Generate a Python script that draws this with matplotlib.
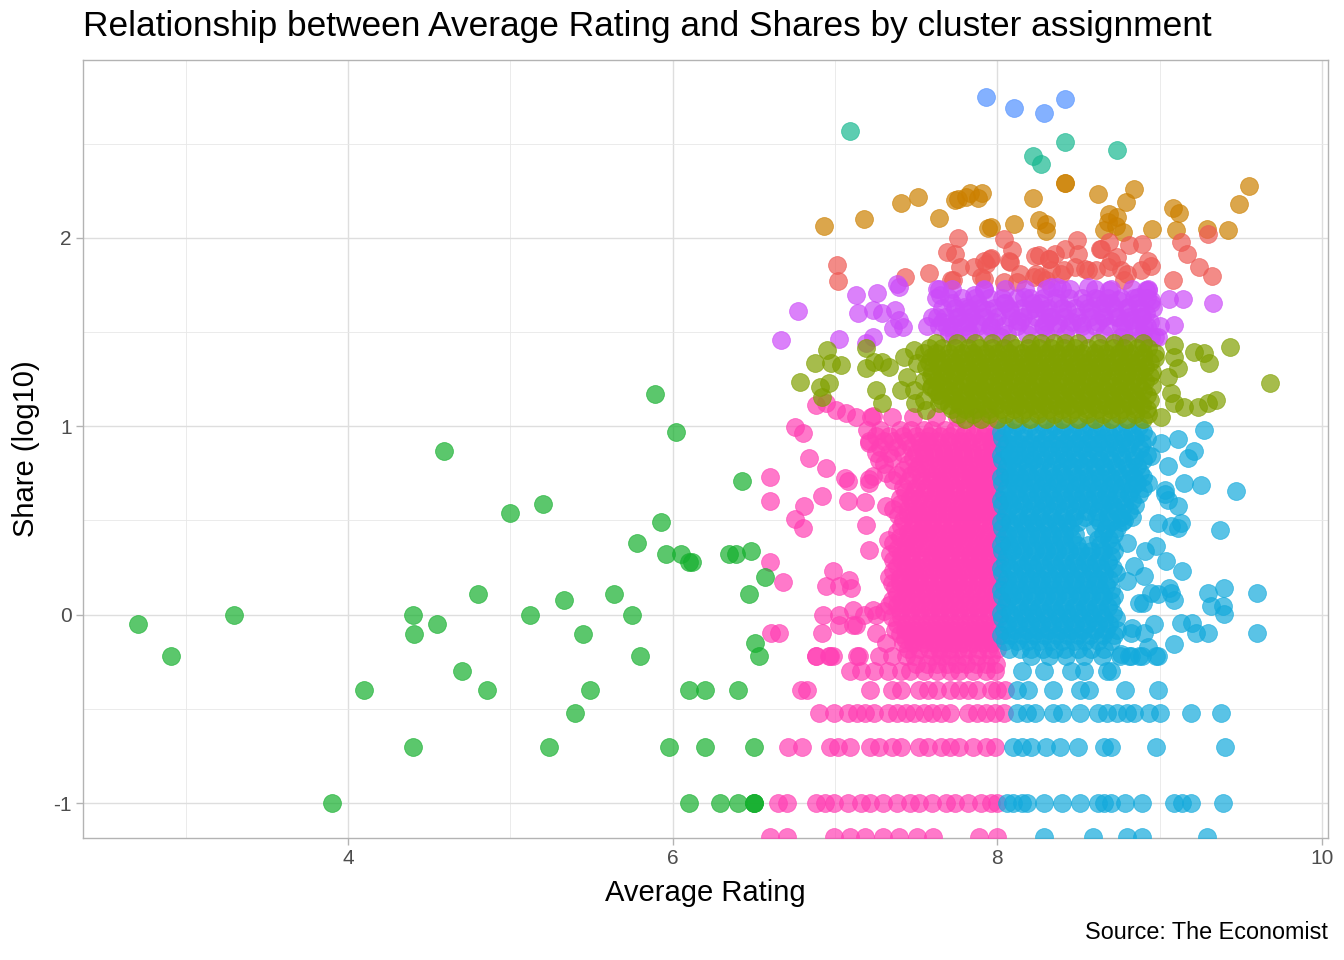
"""
Scatter of average rating vs log10 shares, coloured by cluster assignment.
Points are hand-read off the reference; dense blobs are written as rows of
ratings at a given share level (plus in-between fill rows for the solid cores).
"""

import matplotlib

matplotlib.use("Agg")
import matplotlib.pyplot as plt
from matplotlib.ticker import FixedLocator

plt.rcParams["font.family"] = ["Liberation Sans", "DejaVu Sans"]
plt.rcParams["axes.unicode_minus"] = False

# ---------------------------------------------------------------- data
# sparse clusters: (rating, log10 share)
green_x = [2.71, 2.91, 3.3, 3.9, 4.1, 4.4, 4.41, 4.4, 4.55, 4.59, 4.7, 4.8, 4.86, 5.0,
           5.12, 5.2, 5.24, 5.33, 5.4, 5.45, 5.49, 5.64, 5.75, 5.78, 5.8, 5.89, 5.93,
           5.96, 5.98, 6.02, 6.05, 6.1, 6.12, 6.1, 6.1, 6.2, 6.2, 6.29, 6.35, 6.39, 6.4,
           6.4, 6.43, 6.47, 6.48, 6.5, 6.5, 6.5, 6.5, 6.51, 6.53, 6.57]
green_y = [-0.05, -0.22, 0.0, -1.0, -0.4, 0.0, -0.1, -0.7, -0.05, 0.87, -0.3, 0.11, -0.4,
           0.54, 0.0, 0.59, -0.7, 0.08, -0.52, -0.1, -0.4, 0.11, 0.0, 0.38, -0.22, 1.17,
           0.49, 0.32, -0.7, 0.97, 0.32, 0.28, 0.28, -0.4, -1.0, -0.4, -0.7, -1.0, 0.32,
           0.32, -0.4, -1.0, 0.71, 0.11, 0.34, -0.7, -1.0, -1.0, -1.0, -0.15, -0.22, 0.2]

teal_x = [7.09, 8.22, 8.27, 8.42, 8.74]
teal_y = [2.57, 2.435, 2.39, 2.51, 2.465]

lightblue_x = [7.93, 8.1, 8.29, 8.415]
lightblue_y = [2.747, 2.69, 2.664, 2.74]

orange_x = [6.93, 7.18, 7.41, 7.51, 7.64, 7.74, 7.76, 7.81, 7.83, 7.88, 7.905, 7.94, 7.96,
            8.1, 8.22, 8.26, 8.3, 8.3, 8.42, 8.42, 8.62, 8.66, 8.68, 8.69, 8.73, 8.74,
            8.775, 8.79, 8.84, 8.95, 9.08, 9.12, 9.1, 9.29, 9.42, 9.49, 9.55]
orange_y = [2.065, 2.1, 2.185, 2.217, 2.106, 2.2, 2.208, 2.217, 2.24, 2.214, 2.24, 2.051,
            2.058, 2.072, 2.21, 2.094, 2.076, 2.037, 2.29, 2.29, 2.235, 2.04, 2.085,
            2.129, 2.062, 2.111, 2.03, 2.19, 2.258, 2.05, 2.159, 2.13, 2.044, 2.05,
            2.044, 2.18, 2.277]

red_x = [7.015, 7.02, 7.43, 7.58, 7.76, 7.74, 7.77, 7.715, 7.69, 7.9, 7.93, 7.96, 8.04,
         8.09, 8.08, 8.14, 8.12, 8.23, 8.32, 8.24, 8.3, 8.42, 8.49, 8.5, 8.48, 8.54, 8.41,
         8.64, 8.7, 8.76, 8.81, 8.89, 8.93, 8.78, 8.68, 8.61, 9.08, 9.24, 9.32, 9.13, 9.17,
         9.3, 8.69, 8.885, 8.8, 8.947, 8.557, 8.393, 8.33, 8.27, 8.63, 8.74, 8.32, 8.26,
         7.855, 7.917, 7.958, 7.73, 8.04, 7.917, 8.225, 8.358, 8.07]
red_y = [1.855, 1.77, 1.793, 1.816, 2.0, 1.913, 1.846, 1.775, 1.926, 1.793, 1.859, 1.896,
         1.996, 1.935, 1.873, 1.811, 1.767, 1.903, 1.887, 1.811, 1.776, 1.943, 1.988,
         1.917, 1.846, 1.837, 1.829, 1.943, 1.88, 1.829, 1.96, 1.97, 1.88, 1.775, 1.846,
         1.829, 1.775, 1.846, 1.8, 1.979, 1.917, 2.023, 1.979, 1.83, 1.81, 1.85, 1.83,
         1.81, 1.83, 1.79, 1.943, 1.9, 1.89, 1.908, 1.846, 1.88, 1.89, 1.776, 1.767,
         1.784, 1.793, 1.917, 1.88]

purple_x = [6.67, 6.77, 7.026, 7.127, 7.26, 7.14, 7.234, 7.288, 7.368, 7.395, 7.42, 7.355,
            7.234, 7.194, 7.38, 7.395, 7.64, 7.65, 7.63, 7.568, 7.69, 7.753, 7.794, 7.855,
            7.917, 7.835, 7.938, 7.958, 7.835, 7.732, 7.773, 7.876, 8.02, 8.08, 8.163,
            8.12, 8.2, 8.265, 8.327, 8.286, 8.368, 8.04, 8.331, 8.4, 8.29, 8.43, 8.557,
            8.62, 8.69, 8.66, 8.58, 8.742, 8.803, 8.865, 8.926, 8.947, 8.885, 8.823,
            8.742, 8.66, 8.516, 8.372, 8.762, 8.865, 8.947, 8.988, 9.06, 9.146, 9.33,
            9.086, 8.917, 8.944, 8.917, 8.904, 8.971]
purple_y = [1.458, 1.612, 1.466, 1.696, 1.705, 1.6, 1.617, 1.6, 1.617, 1.564, 1.528, 1.52,
            1.475, 1.44, 1.758, 1.74, 1.73, 1.696, 1.58, 1.535, 1.528, 1.58, 1.634, 1.696,
            1.723, 1.617, 1.617, 1.528, 1.493, 1.484, 1.546, 1.546, 1.475, 1.617, 1.687,
            1.564, 1.617, 1.652, 1.58, 1.528, 1.74, 1.652, 1.74, 1.731, 1.617, 1.617,
            1.74, 1.678, 1.723, 1.652, 1.617, 1.67, 1.635, 1.687, 1.723, 1.652, 1.58,
            1.563, 1.58, 1.58, 1.546, 1.546, 1.475, 1.493, 1.475, 1.475, 1.678, 1.678,
            1.654, 1.54, 1.723, 1.67, 1.6, 1.528, 1.475]
purple_row_y = [1.73, 1.68, 1.655, 1.63, 1.58, 1.555, 1.53, 1.49]
purple_row_x = [
    [7.63, 7.72, 7.92, 8.05, 8.17, 8.3, 8.45, 8.6, 8.7, 8.83, 8.93],
    [7.62, 7.7, 7.78, 7.86, 7.95, 8.03, 8.12, 8.2, 8.28, 8.36, 8.44, 8.52, 8.6, 8.68, 8.76, 8.84, 8.92],
    [7.72, 7.88, 8.05, 8.22, 8.38, 8.54, 8.7, 8.86],
    [7.66, 7.74, 7.82, 7.9, 7.98, 8.07, 8.15, 8.23, 8.31, 8.4, 8.48, 8.56, 8.64, 8.72, 8.8, 8.88, 8.96],
    [7.6, 7.68, 7.76, 7.84, 7.92, 8.0, 8.08, 8.16, 8.24, 8.33, 8.41, 8.49, 8.57, 8.65, 8.73, 8.81, 8.89],
    [7.66, 7.82, 7.98, 8.14, 8.3, 8.46, 8.62, 8.78, 8.94],
    [7.64, 7.72, 7.8, 7.88, 7.96, 8.04, 8.12, 8.2, 8.28, 8.36, 8.44, 8.52, 8.6, 8.68, 8.76, 8.84, 8.92, 9.0],
    [7.7, 7.82, 7.94, 8.06, 8.18, 8.3, 8.42, 8.54, 8.66, 8.78, 8.9],
]

olive_x = [6.95, 6.88, 6.973, 7.04, 6.785, 6.91, 6.963, 6.92, 7.19, 7.19, 7.24, 7.29, 7.332,
           7.25, 7.29, 7.425, 7.486, 7.507, 7.589, 7.445, 7.404, 7.486, 7.548, 7.589, 7.64,
           7.558, 7.496, 9.09, 9.09, 9.11, 9.213, 9.275, 9.306, 9.435, 9.68, 9.07, 9.09,
           9.152, 9.234, 9.295, 9.347, 9.05, 9.008]
olive_y = [1.405, 1.337, 1.334, 1.325, 1.233, 1.21, 1.228, 1.157, 1.413, 1.307, 1.342,
           1.342, 1.316, 1.193, 1.122, 1.369, 1.405, 1.334, 1.37, 1.263, 1.193, 1.193,
           1.14, 1.21, 1.122, 1.087, 1.122, 1.431, 1.369, 1.307, 1.396, 1.387, 1.334,
           1.422, 1.228, 1.175, 1.122, 1.104, 1.104, 1.122, 1.14, 1.263, 1.05]
olive_row_y = [1.44, 1.415, 1.39, 1.365, 1.34, 1.315, 1.29, 1.265, 1.24, 1.215, 1.19,
               1.165, 1.14, 1.115, 1.09, 1.065, 1.04]
olive_row_x = [
    [7.62, 7.75, 7.86, 7.97, 8.08, 8.2, 8.27, 8.35, 8.42, 8.5, 8.62, 8.72, 8.8, 8.9],
    [7.58, 7.66, 7.74, 7.82, 7.89, 7.97, 8.04, 8.11, 8.19, 8.26, 8.33, 8.41, 8.48, 8.56, 8.63, 8.71, 8.78, 8.86, 8.93],
    [7.55, 7.62, 7.7, 7.78, 7.85, 7.93, 8.0, 8.07, 8.15, 8.22, 8.3, 8.37, 8.45, 8.52, 8.6, 8.67, 8.75, 8.82, 8.9, 8.97],
    [7.62, 7.7, 7.77, 7.85, 7.92, 8.0, 8.07, 8.15, 8.22, 8.3, 8.37, 8.45, 8.52, 8.6, 8.67, 8.75, 8.82, 8.9, 8.97],
    [7.58, 7.66, 7.74, 7.81, 7.89, 7.96, 8.04, 8.11, 8.19, 8.26, 8.34, 8.41, 8.49, 8.56, 8.64, 8.71, 8.79, 8.86, 8.94],
    [7.56, 7.64, 7.71, 7.79, 7.86, 7.94, 8.01, 8.09, 8.16, 8.24, 8.31, 8.39, 8.46, 8.54, 8.61, 8.69, 8.76, 8.84, 8.91],
    [7.6, 7.68, 7.75, 7.83, 7.9, 7.98, 8.05, 8.13, 8.2, 8.28, 8.35, 8.43, 8.5, 8.58, 8.65, 8.73, 8.8, 8.88, 8.95],
    [7.59, 7.66, 7.74, 7.81, 7.89, 7.96, 8.04, 8.11, 8.19, 8.26, 8.34, 8.41, 8.49, 8.56, 8.64, 8.71, 8.79, 8.86, 8.94],
    [7.55, 7.63, 7.7, 7.78, 7.86, 7.93, 8.01, 8.08, 8.16, 8.23, 8.31, 8.38, 8.46, 8.53, 8.61, 8.68, 8.76, 8.83, 8.91],
    [7.6, 7.67, 7.74, 7.82, 7.89, 7.97, 8.04, 8.12, 8.19, 8.27, 8.34, 8.42, 8.49, 8.57, 8.64, 8.72, 8.79, 8.87, 8.95],
    [7.62, 7.7, 7.77, 7.85, 7.92, 8.0, 8.07, 8.15, 8.22, 8.3, 8.37, 8.45, 8.52, 8.6, 8.67, 8.75, 8.82, 8.9],
    [7.64, 7.72, 7.8, 7.87, 7.95, 8.02, 8.1, 8.17, 8.25, 8.32, 8.4, 8.47, 8.55, 8.62, 8.7, 8.77, 8.85, 8.92],
    [7.66, 7.74, 7.81, 7.89, 7.96, 8.04, 8.11, 8.19, 8.26, 8.34, 8.41, 8.49, 8.56, 8.64, 8.71, 8.79, 8.86, 8.94],
    [7.7, 7.77, 7.84, 7.92, 7.99, 8.07, 8.14, 8.22, 8.29, 8.37, 8.44, 8.52, 8.59, 8.67, 8.74, 8.82, 8.89],
    [7.72, 7.8, 7.87, 7.95, 8.02, 8.1, 8.17, 8.25, 8.32, 8.4, 8.47, 8.55, 8.62, 8.7, 8.77, 8.85, 8.92],
    [7.76, 7.85, 7.95, 8.05, 8.15, 8.25, 8.35, 8.45, 8.55, 8.65, 8.75, 8.85, 8.93],
    [7.8, 7.9, 8.0, 8.1, 8.2, 8.3, 8.4, 8.5, 8.6, 8.7, 8.8, 8.9],
]

pink_x = [6.884, 6.946, 7.007, 7.069, 6.757, 6.802, 6.839, 6.942, 6.597, 6.601, 6.812, 6.92,
          6.751, 6.802, 7.065, 7.079, 7.208, 7.212, 7.079, 7.184, 7.315, 7.192, 7.212,
          7.325, 6.597, 6.679, 6.987, 6.946, 7.028, 7.089, 7.1, 6.925, 7.028, 7.11, 7.182,
          7.233, 7.253, 6.921, 7.028, 7.11, 7.13, 6.607, 6.658, 6.884, 6.966, 6.987,
          7.151, 7.253, 7.315, 7.233, 7.212, 7.274, 7.233, 7.315, 7.356]
pink_y = [1.114, 1.123, 1.088, 1.07, 0.996, 0.964, 0.831, 0.778, 0.73, 0.601, 0.578, 0.631,
          0.508, 0.46, 0.725, 0.707, 0.72, 0.698, 0.601, 0.598, 0.578, 0.478, 0.345, 0.398,
          0.278, 0.175, 0.23, 0.15, 0.15, 0.186, 0.142, 0.0, 0.0, 0.027, 0.0, 0.027, 0.0,
          -0.097, -0.053, -0.053, -0.053, -0.097, -0.097, -0.221, -0.221, -0.221, -0.221,
          -0.097, -0.15, 1.052, 0.911, 0.822, 0.734, 0.752, 0.716]
pink_row_y = [1.05, 0.98, 0.92, 0.86, 0.8, 0.74, 0.68, 0.62, 0.56, 0.5, 0.44, 0.38, 0.32,
              0.26, 0.2, 0.14, 0.08, 0.02, -0.05, -0.1, -0.15, -0.22, -0.3, -0.4, -0.52,
              -0.7, -1.0, -1.18]
pink_row_x = [
    [7.13, 7.22, 7.35, 7.48, 7.62, 7.75, 7.86, 7.95],
    [7.2, 7.28, 7.4, 7.47, 7.55, 7.6, 7.68, 7.74, 7.81, 7.88, 7.93, 7.99],
    [7.21, 7.3, 7.36, 7.44, 7.52, 7.57, 7.63, 7.7, 7.77, 7.82, 7.9, 7.96, 8.01],
    [7.25, 7.33, 7.42, 7.5, 7.55, 7.61, 7.67, 7.73, 7.79, 7.85, 7.91, 7.97],
    [7.3, 7.45, 7.52, 7.58, 7.64, 7.7, 7.76, 7.82, 7.88, 7.94, 8.0],
    [7.38, 7.47, 7.53, 7.6, 7.66, 7.71, 7.78, 7.84, 7.9, 7.95, 8.01],
    [7.42, 7.5, 7.56, 7.62, 7.68, 7.74, 7.8, 7.86, 7.92, 7.98],
    [7.4, 7.46, 7.52, 7.59, 7.65, 7.7, 7.77, 7.83, 7.89, 7.94, 8.0],
    [7.36, 7.45, 7.5, 7.57, 7.63, 7.69, 7.75, 7.81, 7.87, 7.92, 7.98],
    [7.42, 7.48, 7.54, 7.6, 7.66, 7.72, 7.78, 7.84, 7.9, 7.96, 8.02],
    [7.38, 7.45, 7.51, 7.57, 7.63, 7.69, 7.75, 7.81, 7.86, 7.93, 7.99],
    [7.36, 7.43, 7.49, 7.55, 7.61, 7.67, 7.73, 7.79, 7.85, 7.91, 7.97, 8.02],
    [7.34, 7.41, 7.47, 7.53, 7.6, 7.65, 7.71, 7.77, 7.83, 7.89, 7.95, 8.0],
    [7.38, 7.44, 7.5, 7.56, 7.62, 7.68, 7.74, 7.8, 7.86, 7.92, 7.98],
    [7.33, 7.4, 7.46, 7.52, 7.58, 7.64, 7.7, 7.76, 7.82, 7.88, 7.94, 8.01],
    [7.37, 7.43, 7.49, 7.55, 7.61, 7.67, 7.73, 7.79, 7.85, 7.91, 7.97],
    [7.35, 7.41, 7.47, 7.53, 7.59, 7.65, 7.71, 7.77, 7.83, 7.9, 7.96, 8.02],
    [7.3, 7.4, 7.46, 7.52, 7.58, 7.64, 7.7, 7.76, 7.82, 7.88, 7.94, 8.0],
    [7.38, 7.44, 7.5, 7.56, 7.62, 7.68, 7.74, 7.8, 7.86, 7.92, 7.98],
    [7.4, 7.46, 7.52, 7.58, 7.64, 7.7, 7.76, 7.82, 7.88, 7.94, 8.01],
    [7.42, 7.48, 7.55, 7.61, 7.67, 7.73, 7.79, 7.85, 7.91, 7.97],
    [6.886, 6.97, 7.133, 7.27, 7.353, 7.436, 7.49, 7.6, 7.656, 7.71, 7.79, 7.876, 7.96],
    [7.092, 7.16, 7.243, 7.326, 7.408, 7.463, 7.546, 7.63, 7.71, 7.766, 7.85, 7.93, 7.986],
    [6.79, 6.83, 7.216, 7.353, 7.408, 7.518, 7.574, 7.63, 7.71, 7.766, 7.82, 7.876, 7.96, 8.0, 8.05],
    [6.9, 6.996, 7.078, 7.133, 7.188, 7.243, 7.326, 7.38, 7.436, 7.49, 7.546, 7.6, 7.656,
     7.71, 7.82, 7.876, 7.93, 7.986, 8.04],
    [6.71, 6.795, 6.97, 7.02, 7.092, 7.216, 7.27, 7.353, 7.408, 7.518, 7.574, 7.656, 7.71,
     7.766, 7.85, 7.93, 7.986],
    [6.652, 6.707, 6.886, 6.94, 6.996, 7.078, 7.16, 7.216, 7.298, 7.38, 7.463, 7.518, 7.6,
     7.684, 7.739, 7.82, 7.9, 7.96, 8.0],
    [6.597, 6.707, 6.996, 7.092, 7.188, 7.298, 7.395, 7.505, 7.601, 7.89, 8.0],
]
# in-between rows that close up the solid pink core
pink_fill_y = [0.95, 0.89, 0.83, 0.77, 0.71, 0.65, 0.59, 0.53, 0.47, 0.41, 0.35, 0.29,
               0.23, 0.17, 0.11, 0.05, -0.01, -0.08, -0.13, -0.18, -0.26]
pink_fill_x = [
    [7.25, 7.33, 7.42, 7.5, 7.58, 7.65, 7.71, 7.79, 7.85, 7.92, 7.98],
    [7.28, 7.38, 7.47, 7.53, 7.6, 7.66, 7.72, 7.78, 7.84, 7.9, 7.97],
    [7.35, 7.48, 7.55, 7.61, 7.67, 7.73, 7.79, 7.85, 7.91, 7.97],
    [7.42, 7.5, 7.56, 7.63, 7.69, 7.75, 7.81, 7.87, 7.92, 7.98],
    [7.45, 7.53, 7.59, 7.65, 7.71, 7.77, 7.83, 7.89, 7.95, 8.01],
    [7.43, 7.49, 7.55, 7.62, 7.68, 7.74, 7.8, 7.86, 7.91, 7.97],
    [7.4, 7.48, 7.54, 7.6, 7.66, 7.72, 7.78, 7.84, 7.9, 7.96, 8.01],
    [7.39, 7.45, 7.51, 7.57, 7.63, 7.69, 7.75, 7.81, 7.87, 7.93, 7.99],
    [7.41, 7.48, 7.54, 7.6, 7.66, 7.72, 7.78, 7.84, 7.89, 7.96, 8.01],
    [7.4, 7.46, 7.52, 7.58, 7.64, 7.7, 7.76, 7.82, 7.88, 7.94, 8.0],
    [7.38, 7.44, 7.5, 7.57, 7.63, 7.68, 7.74, 7.8, 7.86, 7.92, 7.98],
    [7.36, 7.41, 7.47, 7.53, 7.59, 7.65, 7.71, 7.77, 7.83, 7.89, 7.95, 8.01],
    [7.36, 7.43, 7.49, 7.55, 7.61, 7.67, 7.73, 7.79, 7.85, 7.91, 7.97],
    [7.35, 7.4, 7.46, 7.52, 7.58, 7.64, 7.7, 7.76, 7.82, 7.88, 7.94, 8.0],
    [7.38, 7.44, 7.5, 7.56, 7.62, 7.68, 7.74, 7.8, 7.87, 7.93, 7.99],
    [7.33, 7.38, 7.44, 7.5, 7.56, 7.62, 7.68, 7.74, 7.8, 7.86, 7.92, 7.98],
    [7.35, 7.41, 7.47, 7.53, 7.59, 7.65, 7.71, 7.77, 7.83, 7.89, 7.95, 8.01],
    [7.37, 7.43, 7.49, 7.55, 7.61, 7.67, 7.73, 7.79, 7.85, 7.91, 7.97],
    [7.43, 7.49, 7.55, 7.61, 7.67, 7.73, 7.79, 7.85, 7.91, 7.97],
    [7.45, 7.52, 7.58, 7.64, 7.7, 7.76, 7.82, 7.88, 7.94, 8.0],
    [7.5, 7.57, 7.63, 7.69, 7.75, 7.81, 7.87, 7.93, 7.99],
]

blue_x = [9.275, 9.47, 9.373, 9.597, 9.597, 9.398, 9.295, 9.316, 9.388, 9.398, 9.14, 9.04,
          9.09, 9.07, 9.06, 9.13, 9.2, 9.224, 9.295, 9.09, 8.988, 8.875, 8.824, 8.967,
          8.906, 8.824, 8.977, 8.906, 8.947, 8.896, 9.13, 9.07, 8.99, 9.11, 9.05, 9.03,
          9.15, 9.254, 9.11, 9.05, 9.213, 9.172, 9.008, 8.947, 8.91, 8.8, 8.99, 8.87,
          8.83, 8.93, 8.76, 8.78, 9.03, 9.11, 8.84, 8.8]
blue_y = [0.98, 0.655, 0.449, 0.117, -0.095, 0.143, 0.117, 0.046, 0.046, 0.002, 0.231,
          0.284, 0.08, 0.117, 0.143, -0.042, -0.042, -0.095, -0.095, -0.157, -0.219,
          -0.219, -0.219, -0.051, -0.095, -0.095, 0.364, 0.205, 0.117, 0.064, 0.488, 0.47,
          0.488, 0.576, 0.611, 0.664, 0.7, 0.69, 0.93, 0.788, 0.867, 0.832, 0.912, 0.84,
          0.34, 0.18, 0.11, 0.06, -0.07, -0.17, -0.21, 0.5, 0.64, 0.46, 0.26, 0.38]
blue_row_y = [1.0, 0.94, 0.88, 0.82, 0.76, 0.7, 0.64, 0.58, 0.52, 0.46, 0.4, 0.34, 0.28,
              0.22, 0.16, 0.1, 0.04, -0.02, -0.08, -0.14, -0.22, -0.3, -0.4, -0.52, -0.7,
              -1.0, -1.18]
blue_row_x = [
    [8.05, 8.12, 8.2, 8.28, 8.35, 8.42, 8.5, 8.57, 8.64, 8.72, 8.8, 8.87],
    [8.03, 8.09, 8.16, 8.23, 8.3, 8.37, 8.44, 8.51, 8.58, 8.65, 8.71, 8.78, 8.85, 8.92],
    [8.04, 8.1, 8.17, 8.24, 8.31, 8.38, 8.45, 8.52, 8.59, 8.66, 8.73, 8.8, 8.88],
    [8.03, 8.09, 8.16, 8.22, 8.29, 8.36, 8.43, 8.5, 8.56, 8.63, 8.7, 8.77, 8.84, 8.9],
    [8.05, 8.11, 8.18, 8.25, 8.32, 8.39, 8.46, 8.53, 8.6, 8.67, 8.74, 8.82, 8.88],
    [8.03, 8.1, 8.16, 8.23, 8.3, 8.37, 8.44, 8.51, 8.58, 8.65, 8.72, 8.79, 8.86, 8.93],
    [8.04, 8.11, 8.18, 8.25, 8.32, 8.39, 8.46, 8.53, 8.6, 8.67, 8.74, 8.81, 8.87],
    [8.03, 8.09, 8.16, 8.23, 8.3, 8.37, 8.44, 8.51, 8.58, 8.65, 8.71, 8.78, 8.85],
    [8.05, 8.12, 8.19, 8.26, 8.33, 8.4, 8.47, 8.54, 8.61, 8.68, 8.76, 8.83],
    [8.03, 8.1, 8.17, 8.24, 8.31, 8.38, 8.45, 8.6, 8.67, 8.74],
    [8.04, 8.11, 8.18, 8.25, 8.32, 8.39, 8.46, 8.62, 8.69],
    [8.03, 8.09, 8.16, 8.23, 8.3, 8.37, 8.44, 8.51, 8.58, 8.65, 8.72],
    [8.05, 8.12, 8.19, 8.26, 8.33, 8.4, 8.47, 8.54, 8.61, 8.68],
    [8.03, 8.1, 8.17, 8.24, 8.31, 8.38, 8.45, 8.52, 8.59, 8.66, 8.73],
    [8.04, 8.11, 8.18, 8.25, 8.32, 8.39, 8.46, 8.53, 8.6, 8.67],
    [8.03, 8.09, 8.16, 8.23, 8.3, 8.37, 8.44, 8.51, 8.58, 8.65, 8.72],
    [8.05, 8.12, 8.19, 8.26, 8.33, 8.4, 8.47, 8.54, 8.61, 8.68],
    [8.03, 8.1, 8.17, 8.24, 8.31, 8.38, 8.45, 8.52, 8.59, 8.66, 8.73],
    [8.04, 8.11, 8.18, 8.25, 8.32, 8.39, 8.46, 8.53, 8.6, 8.67, 8.74],
    [8.05, 8.12, 8.19, 8.26, 8.33, 8.4, 8.47, 8.54, 8.62, 8.7],
    [8.206, 8.316, 8.426, 8.536, 8.646, 8.757, 8.81, 8.894, 8.977],
    [8.15, 8.29, 8.454, 8.536, 8.674, 8.7],
    [8.124, 8.19, 8.344, 8.51, 8.565, 8.784, 8.99],
    [8.124, 8.18, 8.234, 8.344, 8.4, 8.51, 8.62, 8.674, 8.74, 8.8, 8.84, 8.935, 9.0, 9.195, 9.375],
    [8.096, 8.15, 8.206, 8.3, 8.385, 8.495, 8.66, 8.7, 8.977, 9.4],
    [8.06, 8.096, 8.15, 8.18, 8.29, 8.4, 8.51, 8.62, 8.66, 8.7, 8.784, 8.894, 9.087, 9.14, 9.195, 9.39],
    [8.29, 8.59, 8.8, 8.894, 9.29],
]
# in-between rows that close up the solid blue core
blue_fill_y = [0.97, 0.91, 0.85, 0.79, 0.73, 0.67, 0.61, 0.55, 0.49, 0.43, 0.37, 0.31,
               0.25, 0.19, 0.13, 0.07, 0.01, -0.05, -0.11, -0.18]
blue_fill_x = [
    [8.02, 8.09, 8.16, 8.24, 8.31, 8.39, 8.46, 8.53, 8.61, 8.68, 8.76, 8.83, 8.9],
    [8.06, 8.13, 8.2, 8.27, 8.34, 8.41, 8.48, 8.55, 8.62, 8.69, 8.76, 8.82, 8.89],
    [8.02, 8.07, 8.13, 8.2, 8.27, 8.34, 8.41, 8.48, 8.55, 8.62, 8.69, 8.76, 8.84, 8.92],
    [8.06, 8.12, 8.19, 8.26, 8.33, 8.4, 8.46, 8.53, 8.6, 8.66, 8.73, 8.8, 8.86],
    [8.02, 8.08, 8.14, 8.21, 8.28, 8.35, 8.42, 8.49, 8.56, 8.63, 8.7, 8.77, 8.84, 8.9],
    [8.06, 8.13, 8.2, 8.27, 8.34, 8.41, 8.48, 8.55, 8.62, 8.69, 8.76, 8.83, 8.9],
    [8.02, 8.07, 8.14, 8.21, 8.28, 8.35, 8.42, 8.49, 8.56, 8.63, 8.69, 8.76, 8.83],
    [8.06, 8.13, 8.2, 8.27, 8.34, 8.41, 8.48, 8.55, 8.62, 8.69, 8.74, 8.81],
    [8.02, 8.08, 8.15, 8.22, 8.29, 8.36, 8.43, 8.5, 8.63, 8.7, 8.77],
    [8.06, 8.13, 8.2, 8.27, 8.34, 8.41, 8.48, 8.65, 8.72],
    [8.02, 8.07, 8.14, 8.21, 8.28, 8.35, 8.42, 8.49, 8.56, 8.63, 8.7],
    [8.06, 8.14, 8.21, 8.28, 8.35, 8.42, 8.49, 8.56, 8.63, 8.7],
    [8.02, 8.08, 8.15, 8.22, 8.29, 8.36, 8.43, 8.5, 8.57, 8.64, 8.71],
    [8.06, 8.13, 8.2, 8.27, 8.34, 8.41, 8.48, 8.55, 8.62, 8.69],
    [8.02, 8.07, 8.14, 8.21, 8.28, 8.35, 8.42, 8.49, 8.56, 8.63, 8.7],
    [8.06, 8.14, 8.21, 8.28, 8.35, 8.42, 8.49, 8.56, 8.63, 8.7],
    [8.02, 8.08, 8.15, 8.22, 8.29, 8.36, 8.43, 8.5, 8.57, 8.64, 8.71],
    [8.06, 8.13, 8.2, 8.27, 8.34, 8.41, 8.48, 8.55, 8.62, 8.69],
    [8.02, 8.08, 8.15, 8.22, 8.29, 8.36, 8.43, 8.5, 8.57, 8.65, 8.72],
    [8.07, 8.14, 8.21, 8.28, 8.35, 8.42, 8.5, 8.58, 8.66],
]

# cluster colours and drawing order (first is drawn at the bottom)
CLUSTER_COLORS = {
    "orange": "#CC8000",
    "red": "#EE5A55",
    "purple": "#CC4CF8",
    "pink": "#FF40B4",
    "blue": "#14AADC",
    "olive": "#80A000",
    "green": "#15B02E",
    "teal": "#18B890",
    "lightblue": "#5090FF",
}


def expand_rows(levels, rows):
    """Turn (share level, list of ratings) rows into flat x / y lists."""
    xs, ys = [], []
    for level, row in zip(levels, rows):
        xs.extend(row)
        ys.extend([level] * len(row))
    return xs, ys


def cluster_points():
    px, py = expand_rows(purple_row_y, purple_row_x)
    ox, oy = expand_rows(olive_row_y, olive_row_x)
    kx, ky = expand_rows(pink_row_y + pink_fill_y, pink_row_x + pink_fill_x)
    bx, by = expand_rows(blue_row_y + blue_fill_y, blue_row_x + blue_fill_x)
    return {
        "orange": (orange_x, orange_y),
        "red": (red_x, red_y),
        "purple": (purple_x + px, purple_y + py),
        "pink": (pink_x + kx, pink_y + ky),
        "blue": (blue_x + bx, blue_y + by),
        "olive": (olive_x + ox, olive_y + oy),
        "green": (green_x, green_y),
        "teal": (teal_x, teal_y),
        "lightblue": (lightblue_x, lightblue_y),
    }


fig = plt.figure(figsize=(13.44, 9.6), dpi=100)
ax = fig.add_axes([0.0618, 0.127, 0.9263, 0.8104])

for name, (xs, ys) in cluster_points().items():
    col = CLUSTER_COLORS[name]
    ax.scatter(xs, ys, s=165, color=col, alpha=0.7, edgecolors=col, linewidths=0.6,
               zorder=3)

ax.set_xlim(2.369, 10.037)
ax.set_ylim(-1.186, 2.944)

# light theme: grey border, major + minor grid
ax.xaxis.set_major_locator(FixedLocator([4, 6, 8, 10]))
ax.yaxis.set_major_locator(FixedLocator([-1, 0, 1, 2]))
ax.xaxis.set_minor_locator(FixedLocator([3, 5, 7, 9]))
ax.yaxis.set_minor_locator(FixedLocator([-0.5, 0.5, 1.5, 2.5]))
ax.grid(which="major", color="#DEDEDE", linewidth=1.0, zorder=0)
ax.grid(which="minor", color="#E8E8E8", linewidth=0.6, zorder=0)
ax.set_axisbelow(True)
for sp in ax.spines.values():
    sp.set_color("#B3B3B3")
    sp.set_linewidth(1.0)
ax.tick_params(which="major", length=5, width=1.0, color="#B3B3B3",
               labelcolor="#4D4D4D", labelsize=15, pad=3)
ax.tick_params(which="minor", length=0)

ax.set_xlabel("Average Rating", fontsize=21, labelpad=8)
ax.set_ylabel("Share (log10)", fontsize=21, labelpad=10)
fig.text(0.0618, 0.962, "Relationship between Average Rating and Shares by cluster assignment",
         fontsize=25.4, ha="left", va="baseline")
fig.text(0.988, 0.022, "Source: The Economist", fontsize=16.8, ha="right", va="baseline")

fig.savefig("out.png", dpi=100)
